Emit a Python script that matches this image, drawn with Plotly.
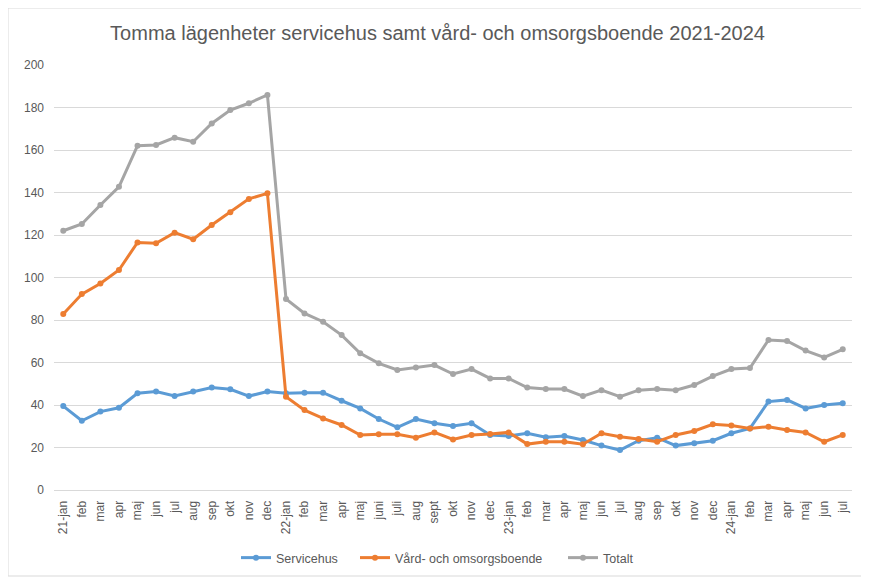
import plotly.graph_objects as go

categories = ["21-jan", "feb", "mar", "apr", "maj", "jun", "jul", "aug", "sep", "okt", "nov", "dec",
              "22-jan", "feb", "mar", "apr", "maj", "juni", "juli", "aug", "sept", "okt", "nov", "dec",
              "23-jan", "feb", "mar", "apr", "maj", "jun", "jul", "aug", "sep", "okt", "nov", "dec",
              "24-jan", "feb", "mar", "apr", "maj", "jun", "jul"]

servicehus = [39.5, 32.6, 36.9, 38.7, 45.5, 46.3, 44.2, 46.3, 48.2, 47.4, 44.2, 46.3,
              45.5, 45.8, 45.8, 42.0, 38.4, 33.4, 29.5, 33.4, 31.4, 30.1, 31.4, 25.9,
              25.4, 26.7, 24.8, 25.4, 23.5, 20.9, 18.8, 23.2, 24.6, 20.9, 22.0, 23.2,
              26.7, 29.0, 41.6, 42.4, 38.4, 40.0, 40.8]

vard = [82.8, 92.2, 97.2, 103.5, 116.5, 116.1, 121.1, 118.0, 124.7, 130.7, 137.0, 139.6,
        43.9, 37.6, 33.7, 30.6, 25.9, 26.2, 26.2, 24.6, 27.1, 23.8, 25.9, 26.4,
        27.1, 21.6, 22.7, 22.7, 21.5, 26.7, 25.1, 24.0, 22.7, 25.9, 27.8, 30.9,
        30.3, 29.0, 29.8, 28.2, 27.1, 22.7, 25.9]

totalt = [122.0, 125.2, 134.1, 142.7, 162.0, 162.4, 165.8, 163.9, 172.5, 178.8, 182.0, 185.9,
          89.9, 83.1, 79.2, 72.9, 64.3, 59.6, 56.5, 57.6, 58.8, 54.6, 56.9, 52.5,
          52.5, 48.2, 47.5, 47.5, 44.2, 47.0, 43.9, 47.0, 47.5, 47.0, 49.4, 53.6,
          56.9, 57.4, 70.6, 70.1, 65.6, 62.4, 66.2]

y_ticks = [0, 20, 40, 60, 80, 100, 120, 140, 160, 180, 200]

x = list(range(len(categories)))

series = [("Servicehus", servicehus, "#5B9BD5", "legend"),
          ("Vård- och omsorgsboende", vard, "#ED7D31", "legend2"),
          ("Totalt", totalt, "#A5A5A5", "legend3")]

fig = go.Figure()
for name, vals, col, leg in series:
    fig.add_trace(go.Scatter(x=x, y=vals, name=name, mode="lines+markers",
                             line=dict(color=col, width=3),
                             marker=dict(color=col, size=6), legend=leg))

# page body has an 8px margin, so the figure is drawn 8px smaller and offset
W, H = 861, 570
ml, mr, mt, mb = 46, 17, 57, 88
pw, ph = W - ml - mr, H - mt - mb

leg_y = -(550 - 482) / ph
leg_font = dict(size=12.5, color="#595959")


def leg(xpos):
    return dict(orientation="h", x=xpos, xanchor="left", y=leg_y, yanchor="middle",
                font=leg_font, bgcolor="rgba(0,0,0,0)")


fig.update_layout(
    width=W, height=H,
    margin=dict(l=ml, r=mr, t=mt, b=mb, autoexpand=False),
    paper_bgcolor="white", plot_bgcolor="white",
    font=dict(family="Liberation Sans, Arial, sans-serif", color="#595959", size=12),
    title=dict(text="Tomma lägenheter servicehus samt vård- och omsorgsboende 2021-2024",
               x=(437.5 - 8) / W, xanchor="center", y=1 - 25 / H, yanchor="middle",
               font=dict(size=20, color="#595959")),
    xaxis=dict(range=[-0.5, len(categories) - 0.5], tickmode="array", tickvals=x,
               ticktext=categories, tickangle=-90, showgrid=False, zeroline=False,
               showline=True, linecolor="#D9D9D9", linewidth=1, ticks="",
               ticklabelstandoff=5,
               automargin=False, tickfont=dict(size=12, color="#595959")),
    yaxis=dict(range=[0, 200], tickmode="array", tickvals=y_ticks, showgrid=True,
               gridcolor="#D9D9D9", gridwidth=1, zeroline=False, showline=False,
               ticks="", ticklabelstandoff=9,
               automargin=False, tickfont=dict(size=12, color="#595959")),
    legend=leg((243 - 7 - 8 - ml) / pw),
    legend2=leg((362 - 7 - 8 - ml) / pw),
    legend3=leg((570 - 7 - 8 - ml) / pw),
    showlegend=True,
)

fig.add_shape(type="rect", xref="paper", yref="paper",
              x0=-ml / pw, x1=1 + (mr - 3) / pw,
              y0=-(mb - 2) / ph, y1=1 + mt / ph,
              line=dict(color="#D9D9D9", width=1), fillcolor="rgba(0,0,0,0)", layer="below")

fig.write_html("out.html")
